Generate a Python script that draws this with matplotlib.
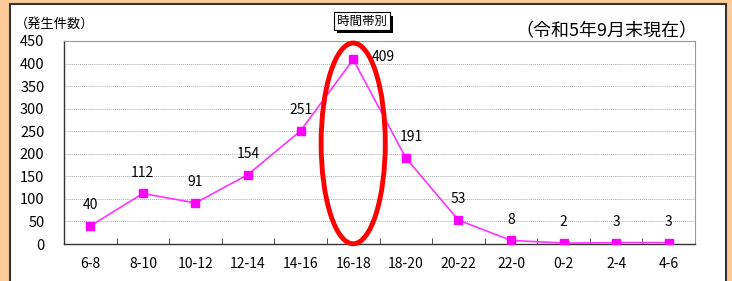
import matplotlib
matplotlib.use('Agg')
import matplotlib.pyplot as plt
from matplotlib.patches import Ellipse, Rectangle

plt.rcParams['font.family'] = ['Noto Sans CJK JP', 'DejaVu Sans']

hours = ['6-8', '8-10', '10-12', '12-14', '14-16', '16-18',
         '18-20', '20-22', '22-0', '0-2', '2-4', '4-6']
counts = [40, 112, 91, 154, 251, 409, 191, 53, 8, 2, 3, 3]
yticks = [0, 50, 100, 150, 200, 250, 300, 350, 400, 450]

W, H = 732, 281
fig = plt.figure(figsize=(W / 100, H / 100), dpi=100, facecolor='#fccb98')


def px_rect(x0, y0, x1, y1, **kw):
    # rectangle given in pixels from top-left corner
    return Rectangle((x0 / W, 1 - y1 / H), (x1 - x0) / W, (y1 - y0) / H,
                     transform=fig.transFigure, **kw)


# white panel
fig.patches.append(px_rect(10, 4, 726, 283, facecolor='white',
                           edgecolor='#333333', linewidth=1.5, zorder=-5))

ax = fig.add_axes([64 / W, 37 / H, 631 / W, 203 / H])
x = list(range(len(hours)))
ax.plot(x, counts, color='#ff33ff', linewidth=1.2, marker='s', markersize=6,
        markerfacecolor='#ff00ff', markeredgecolor='#ff00ff', zorder=3)

for i, v in enumerate(counts):
    if hours[i] == '16-18':
        ax.annotate(str(v), (i, v), xytext=(22, 2), textcoords='offset points',
                    ha='center', va='center', fontsize=10)
    elif hours[i] == '18-20':
        ax.annotate(str(v), (i, v), xytext=(4, 15), textcoords='offset points',
                    ha='center', va='center', fontsize=10)
    else:
        ax.annotate(str(v), (i, v), xytext=(0, 15), textcoords='offset points',
                    ha='center', va='center', fontsize=10)

ax.set_xlim(-0.5, len(hours) - 0.5)
ax.set_ylim(0, 450)
ax.set_yticks(yticks)
ax.set_yticklabels([str(t) for t in yticks], fontsize=10.5)
ax.set_xticks(x)
ax.set_xticklabels(hours, fontsize=10)
ax.tick_params(axis='y', length=0, pad=14)
ax.tick_params(axis='x', which='major', length=0, pad=9)
ax.set_xticks([i + 0.5 for i in x[:-1]], minor=True)
ax.tick_params(axis='x', which='minor', direction='in', length=4, color='#333333')

ax.grid(axis='y', color='#aaaaaa', linestyle=(0, (1, 1)), linewidth=0.7)
ax.set_axisbelow(True)
for s in ['top', 'right']:
    ax.spines[s].set_color('#999999')
for s in ['left', 'bottom']:
    ax.spines[s].set_color('#333333')
    ax.spines[s].set_linewidth(1.0)

# red ellipse around the peak
peak = hours.index('16-18')
ell = Ellipse((peak, 223), 1.22, 445, fill=False, edgecolor='#ff0000',
              linewidth=3.5, clip_on=False, zorder=5)
ax.add_patch(ell)

fig.text(15 / W, 1 - 24 / H, '（発生件数）', fontsize=9.5, ha='left', va='center')
fig.text(697 / W, 1 - 31 / H, '（令和5年9月末現在）', fontsize=13, ha='right', va='center')

# title box with shadow
fig.patches.append(px_rect(337, 16, 393, 33, facecolor='black',
                           edgecolor='black', linewidth=0, zorder=1))
fig.patches.append(px_rect(334, 12, 390, 30, facecolor='white',
                           edgecolor='black', linewidth=0.8, zorder=2))
fig.text(362 / W, 1 - 21 / H, '時間帯別', fontsize=9, ha='center', va='center',
         zorder=3)

fig.savefig('out.png', dpi=100, facecolor=fig.get_facecolor())
